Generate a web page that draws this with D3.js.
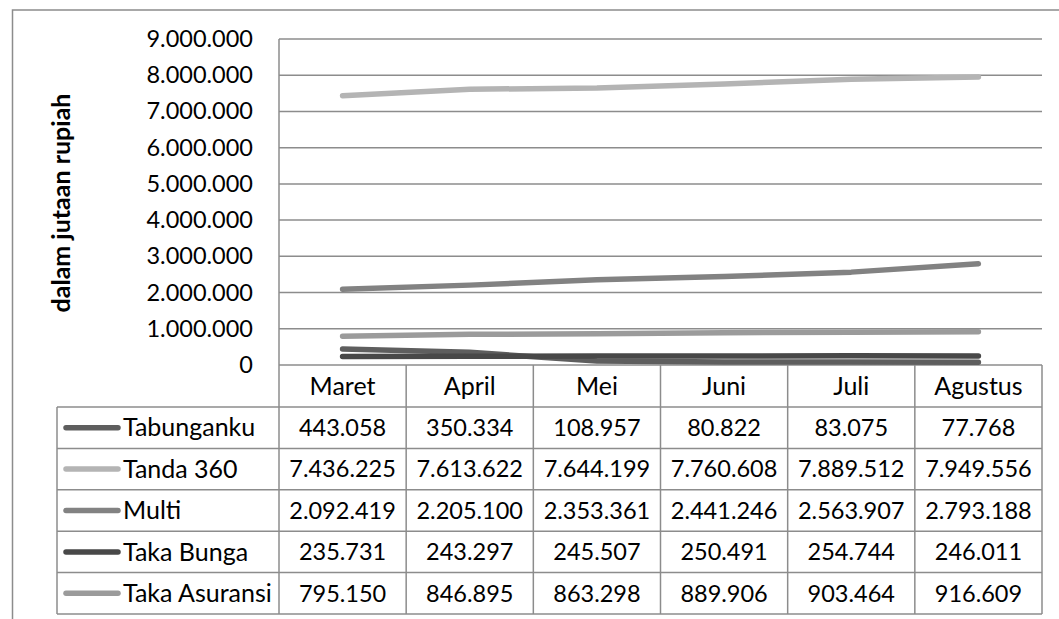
<!DOCTYPE html>
<html>
<head>
<meta charset="utf-8">
<script src="https://cdn.jsdelivr.net/npm/d3@7"></script>
<style>
  html, body { margin: 0; padding: 0; background: #fff; }
  svg { display: block; font-family: Lato, "Noto Sans", sans-serif; }
</style>
</head>
<body>
<svg id="chart" width="1059" height="619"></svg>
<script>
const months = ["Maret", "April", "Mei", "Juni", "Juli", "Agustus"];
const seriesNames = ["Tabunganku", "Tanda 360", "Multi", "Taka Bunga", "Taka Asuransi"];
const tabunganku = [443058, 350334, 108957, 80822, 83075, 77768];
const tanda360 = [7436225, 7613622, 7644199, 7760608, 7889512, 7949556];
const multi = [2092419, 2205100, 2353361, 2441246, 2563907, 2793188];
const takaBunga = [235731, 243297, 245507, 250491, 254744, 246011];
const takaAsuransi = [795150, 846895, 863298, 889906, 903464, 916609];
const yTicks = [0, 1000000, 2000000, 3000000, 4000000, 5000000, 6000000, 7000000, 8000000, 9000000];
const yTitle = "dalam jutaan rupiah";

const seriesValues = [tabunganku, tanda360, multi, takaBunga, takaAsuransi];
const colors = ["#5e5e5e", "#b4b4b4", "#828282", "#484848", "#9b9b9b"];

const locale = d3.formatLocale({ decimal: ",", thousands: ".", grouping: [3], currency: ["Rp", ""] });
const fmt = locale.format(",d");

const svg = d3.select("#chart");
const plotLeft = 279, plotRight = 1042, plotTop = 39, plotBottom = 365;
const headerBottom = 407, tableBottom = 614, legendLeft = 57;
const gridColor = "#8c8c8c";
const numSize = 23.5, wordSize = 25;

const x = d3.scaleBand().domain(months).range([plotLeft, plotRight]);
const y = d3.scaleLinear().domain([0, 9000000]).range([plotBottom, plotTop]);
const rowY = d3.scaleBand().domain(seriesNames).range([headerBottom, tableBottom]);

// outer frame (partially visible)
svg.append("path").attr("d", "M12.5,619 L12.5,10 L1059,10")
  .attr("fill", "none").attr("stroke", "#8c8c8c").attr("stroke-width", 1.5);

// gridlines
svg.append("g").selectAll("line").data(yTicks.filter(d => d > 0)).join("line")
  .attr("x1", plotLeft).attr("x2", plotRight)
  .attr("y1", d => y(d)).attr("y2", d => y(d))
  .attr("stroke", gridColor).attr("stroke-width", 1.5);

// y axis via d3 axis (labels only)
const yAxis = d3.axisLeft(y).tickValues(yTicks).tickFormat(fmt).tickSize(0).tickPadding(26);
const ya = svg.append("g").attr("transform", `translate(${plotLeft},0)`).call(yAxis);
ya.select(".domain").remove();
ya.selectAll("text").attr("font-size", numSize).attr("fill", "#000").attr("font-family", "Lato, sans-serif");

// y title
svg.append("text").attr("transform", `translate(70,203) rotate(-90)`)
  .attr("text-anchor", "middle").attr("font-weight", "bold").attr("font-size", 25).text(yTitle);

// table lines
const tbl = svg.append("g").attr("stroke", gridColor).attr("stroke-width", 1.5);
tbl.append("line").attr("x1", plotLeft).attr("x2", plotRight).attr("y1", plotBottom).attr("y2", plotBottom);
const rowEdges = seriesNames.map(s => rowY(s)).concat([rowY(seriesNames[seriesNames.length - 1]) + rowY.bandwidth()]);
tbl.selectAll("line.h").data(rowEdges).join("line").attr("class", "h")
  .attr("x1", legendLeft).attr("x2", plotRight).attr("y1", d => d).attr("y2", d => d);
tbl.append("line").attr("x1", plotLeft).attr("x2", plotLeft).attr("y1", plotTop).attr("y2", tableBottom);
tbl.append("line").attr("x1", legendLeft).attr("x2", legendLeft).attr("y1", headerBottom).attr("y2", tableBottom);
const colEdges = months.map(m => x(m) + x.bandwidth());
tbl.selectAll("line.v").data(colEdges).join("line").attr("class", "v")
  .attr("x1", d => d).attr("x2", d => d).attr("y1", plotBottom).attr("y2", tableBottom);

// header labels
svg.append("g").selectAll("text").data(months).join("text")
  .attr("x", d => x(d) + x.bandwidth() / 2).attr("y", (plotBottom + headerBottom) / 2)
  .attr("dy", "0.35em").attr("text-anchor", "middle").attr("font-size", wordSize).text(d => d);

// legend column
const leg = svg.append("g").selectAll("g").data(seriesNames).join("g")
  .attr("transform", d => `translate(0,${rowY(d) + rowY.bandwidth() / 2})`);
leg.append("line").attr("x1", 66).attr("x2", 118).attr("y1", 0).attr("y2", 0)
  .attr("stroke", (d, i) => colors[i]).attr("stroke-width", 5.5).attr("stroke-linecap", "round");
leg.append("text").attr("x", 123).attr("dy", "0.35em").attr("font-size", wordSize).text(d => d);

// data cells
seriesNames.forEach((s, i) => {
  svg.append("g").selectAll("text").data(seriesValues[i]).join("text")
    .attr("x", (d, j) => x(months[j]) + x.bandwidth() / 2)
    .attr("y", rowY(s) + rowY.bandwidth() / 2)
    .attr("dy", "0.35em").attr("text-anchor", "middle").attr("font-size", numSize)
    .text(d => fmt(d));
});

// lines
const lineGen = d3.line().x((d, j) => x(months[j]) + x.bandwidth() / 2).y(d => y(d));
svg.append("g").selectAll("path").data(seriesValues).join("path")
  .attr("d", d => lineGen(d)).attr("fill", "none")
  .attr("stroke", (d, i) => colors[i]).attr("stroke-width", 5.5)
  .attr("stroke-linecap", "round").attr("stroke-linejoin", "round");
</script>
</body>
</html>
